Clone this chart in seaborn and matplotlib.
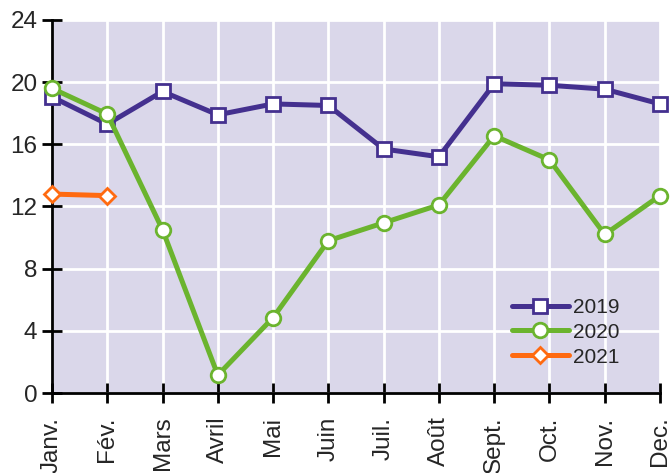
import matplotlib.pyplot as plt
import seaborn as sns
import pandas as pd

months = ['Janv.', 'Fév.', 'Mars', 'Avril', 'Mai', 'Juin', 'Juil.', 'Août',
          'Sept.', 'Oct.', 'Nov.', 'Dec.']
v2019 = [19.05, 17.3, 19.4, 17.9, 18.6, 18.5, 15.7, 15.2, 19.9, 19.8, 19.55, 18.6]
v2020 = [19.6, 17.95, 10.5, 1.15, 4.85, 9.8, 10.95, 12.1, 16.55, 15.0, 10.2, 12.7]
v2021 = [12.8, 12.7]

series = {'2019': v2019, '2020': v2020, '2021': v2021}
colors = {'2019': '#44308f', '2020': '#6bb42e', '2021': '#ff6a10'}
markers = {'2019': 's', '2020': 'o', '2021': 'D'}
msizes = {'2019': 10.5, '2020': 10.5, '2021': 8}

rows = []
for year, vals in series.items():
    for i, v in enumerate(vals):
        rows.append({'idx': i, 'value': v, 'year': year})
df = pd.DataFrame(rows)

sns.set_style('white', {'axes.facecolor': '#dad7ea'})
plt.rcParams['font.family'] = ['Liberation Sans', 'DejaVu Sans']

fig = plt.figure(figsize=(6.71, 4.73), dpi=100)
ax = fig.add_axes([52 / 671, 1 - 393 / 473, 608 / 671, 373 / 473])

for year in series:
    d = df[df['year'] == year]
    sns.lineplot(data=d, x='idx', y='value', ax=ax, color=colors[year],
                 linewidth=3.6, marker=markers[year], markersize=msizes[year],
                 markerfacecolor='white', markeredgecolor=colors[year],
                 markeredgewidth=2, label=year, clip_on=False, zorder=3)

ax.set_xlim(0, 11)
ax.set_ylim(0, 24)
ax.set_yticks(range(0, 25, 4))
ax.set_xticks(range(12))
ax.set_xticklabels(months, rotation=90)
ax.set_xlabel('')
ax.set_ylabel('')
ax.grid(True, color='white', linewidth=2)
ax.set_axisbelow(True)
for s in ['top', 'right']:
    ax.spines[s].set_visible(False)
for s in ['left', 'bottom']:
    ax.spines[s].set_color('black')
    ax.spines[s].set_linewidth(2)
ax.tick_params(axis='both', direction='inout', length=15, width=2,
               labelsize=17.5, color='black', bottom=True, left=True)
ax.tick_params(axis='x', pad=9.5)
ax.tick_params(axis='y', pad=3)

leg = ax.legend(loc='lower right', bbox_to_anchor=(0.951, 0.043), frameon=False,
                fontsize=15, handlelength=2.75, handletextpad=0.2,
                labelspacing=0.28, borderpad=0)

fig.savefig('out.png', dpi=100)
